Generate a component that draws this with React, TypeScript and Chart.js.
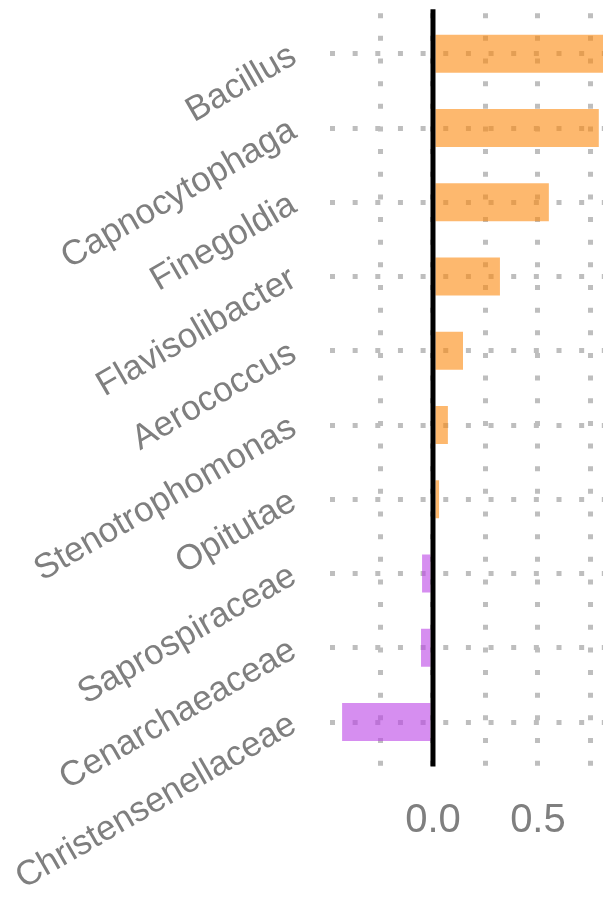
import React, { useEffect, useRef } from 'react';
import { Chart, registerables } from 'chart.js';

Chart.register(...registerables);

const categories = [
  'Bacillus',
  'Capnocytophaga',
  'Finegoldia',
  'Flavisolibacter',
  'Aerococcus',
  'Stenotrophomonas',
  'Opitutae',
  'Saprospiraceae',
  'Cenarchaeaceae',
  'Christensenellaceae',
];
const values = [0.93, 0.79, 0.552, 0.319, 0.143, 0.071, 0.029, -0.052, -0.057, -0.433];
const xTickValues = [0, 0.5];
const xTickLabels = ['0.0', '0.5'];

const posColor = 'rgba(252,137,13,0.6)';
const negColor = 'rgba(187,67,230,0.6)';
const gridColor = '#bebebe';
const textColor = '#7f7f7f';
const fontFamily = '"Liberation Sans", Arial, sans-serif';

export default function App() {
  const ref = useRef<HTMLCanvasElement>(null);
  useEffect(() => {
    const zeroLine = {
      id: 'zeroLine',
      afterDatasetsDraw(chart: any) {
        const { ctx, chartArea, scales } = chart;
        const x = scales.x.getPixelForValue(0);
        ctx.save();
        ctx.strokeStyle = '#000000';
        ctx.lineWidth = 5;
        ctx.beginPath();
        ctx.moveTo(x, chartArea.top);
        ctx.lineTo(x, chartArea.bottom);
        ctx.stroke();
        ctx.restore();
      },
    };
    const chart = new Chart(ref.current as HTMLCanvasElement, {
      type: 'bar',
      data: {
        datasets: [
          {
            data: values.map((v, i) => ({ x: v, y: i })) as any,
            backgroundColor: values.map((v) => (v >= 0 ? posColor : negColor)),
            barPercentage: 0.51,
            categoryPercentage: 1,
            borderWidth: 0,
          },
        ],
      },
      options: {
        indexAxis: 'y',
        responsive: false,
        animation: false,
        devicePixelRatio: 1,
        layout: { padding: { top: 9.2, right: 0, bottom: 0, left: 0 } },
        plugins: { legend: { display: false }, tooltip: { enabled: false } },
        scales: {
          x: {
            type: 'linear',
            position: 'bottom',
            min: -0.493,
            max: 0.81,
            offset: false,
            grid: { color: gridColor, lineWidth: 5, drawTicks: false, offset: false },
            border: { display: false, dash: [5, 17.65], dashOffset: 18.65 },
            ticks: {
              stepSize: 0.25,
              includeBounds: false,
              autoSkip: false,
              maxRotation: 0,
              minRotation: 0,
              padding: 30,
              color: textColor,
              font: { family: fontFamily, size: 40 },
              callback: (v: any) => {
                const k = xTickValues.indexOf(Number(v));
                return k >= 0 ? xTickLabels[k] : '';
              },
            },
            afterFit: (s: any) => {
              s.height = 130.4;
              s.paddingLeft = 0;
              s.paddingRight = 0;
            },
          },
          y: {
            type: 'linear',
            position: 'left',
            reverse: true,
            min: -0.6,
            max: 9.6,
            offset: false,
            grid: { color: gridColor, lineWidth: 5, drawTicks: false, offset: false },
            border: { display: false, dash: [5, 17.65], dashOffset: 0 },
            ticks: {
              stepSize: 1,
              includeBounds: false,
              autoSkip: false,
              minRotation: 30,
              maxRotation: 30,
              padding: 36,
              color: textColor,
              font: { family: fontFamily, size: 35 },
              callback: (v: any) => categories[Number(v)] ?? '',
            },
            afterFit: (s: any) => {
              s.width = 329.5;
              s.paddingTop = 0;
              s.paddingBottom = 0;
            },
          },
        },
      } as any,
      plugins: [zeroLine],
    });
    return () => chart.destroy();
  }, []);
  return (
    <div style={{ position: 'absolute', left: 0, top: 0, width: 603, height: 897 }}>
      <canvas ref={ref} width={603} height={897} />
    </div>
  );
}
